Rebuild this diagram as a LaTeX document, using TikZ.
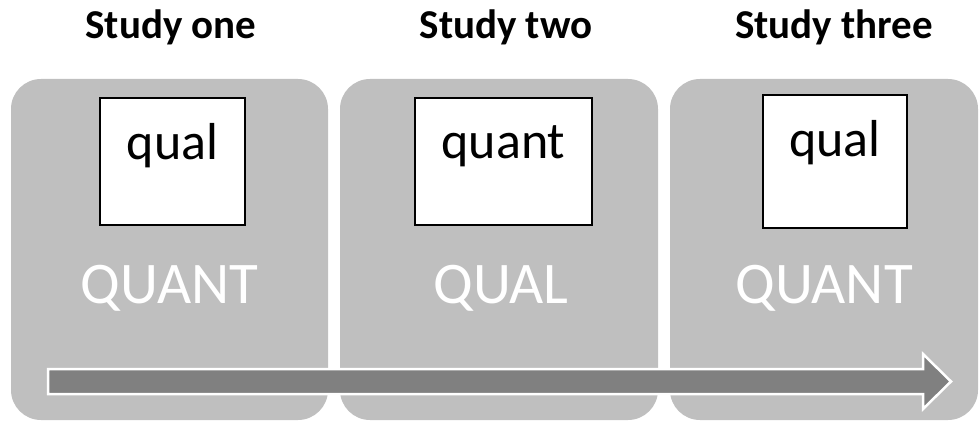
\documentclass[tikz,border=0pt]{standalone}
\usepackage{fontspec}
\setmainfont{Carlito}
\definecolor{panelgrey}{HTML}{BFBFBF}
\definecolor{arrowgrey}{HTML}{808080}
\tikzset{
  panel/.style={fill=panelgrey, draw=none, rounded corners=30pt, inner sep=0pt, minimum height=341pt},
  methodbox/.style={fill=white, draw=black, line width=1.4pt, inner sep=0pt},
  minortext/.style={font=\fontsize{52}{52}\selectfont, text=black, anchor=base},
  majortext/.style={font=\fontsize{59}{59}\selectfont, text=white, anchor=base},
  title/.style={font=\fontsize{41}{41}\selectfont\bfseries, text=black, anchor=base},
  timearrow/.style={fill=arrowgrey, draw=white, line width=2.5pt, line join=miter}
}
\begin{document}
\begin{tikzpicture}[x=1pt, y=-1pt]
  \useasboundingbox (0,0) rectangle (980,422);
  % study panels
  \node[panel, minimum width=317pt] (p1) at (169.5,249.5) {};
  \node[panel, minimum width=318pt] (p2) at (499,249.5) {};
  \node[panel, minimum width=308pt] (p3) at (824,249.5) {};
  % titles
  \node[title] (t1) at (171,39) {Study one};
  \node[title] (t2) at (506,39) {Study two};
  \node[title] (t3) at (834,39) {Study three};
  % minor method boxes
  \node[methodbox, minimum width=145pt, minimum height=127pt] (b1) at (172.5,161.5) {};
  \node[methodbox, minimum width=177pt, minimum height=127pt] (b2) at (503.5,161.5) {};
  \node[methodbox, minimum width=144pt, minimum height=133pt] (b3) at (835,161.5) {};
  \node[minortext] (m1) at (172.5,160) {qual};
  \node[minortext] (m2) at (503.5,159) {quant};
  \node[minortext] (m3) at (835,157) {qual};
  % dominant methods
  \node[majortext] (d1) at (169.5,303) {QUANT};
  \node[majortext] (d2) at (501,303) {QUAL};
  \node[majortext] (d3) at (824,303) {QUANT};
  % sequence arrow
  \draw[timearrow] (48,369) -- (923,369) -- (923,354) -- (951,381.5)
    -- (923,409) -- (923,394) -- (48,394) -- cycle;
\end{tikzpicture}
\end{document}
